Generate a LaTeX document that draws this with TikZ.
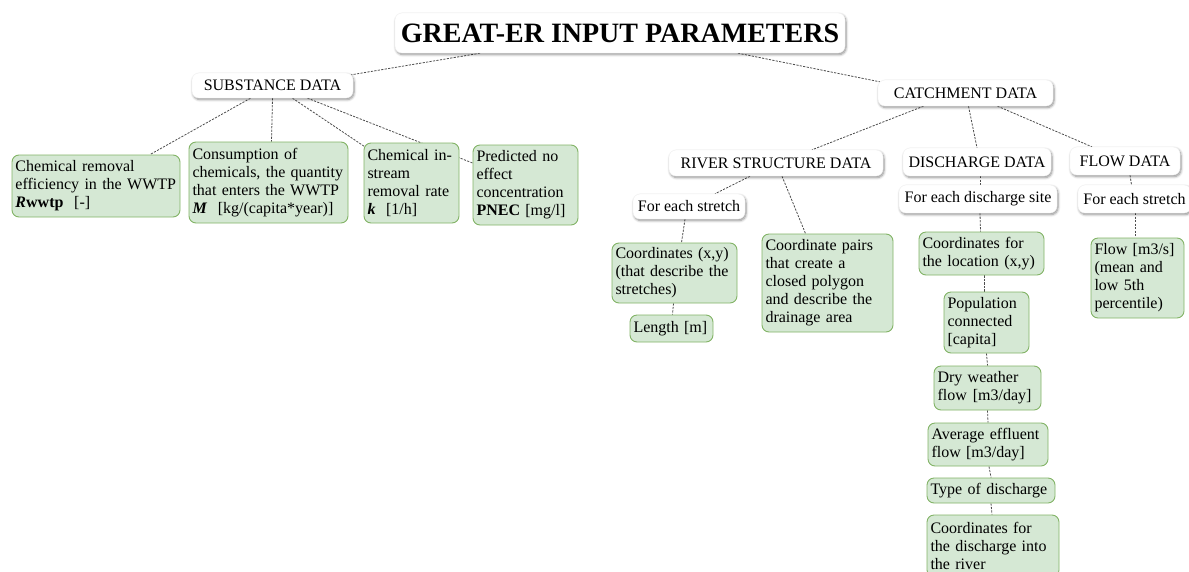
\documentclass[tikz,border=0pt]{standalone}
\usepackage{fontspec}
\setmainfont{Liberation Serif}
\usetikzlibrary{shadows.blur,backgrounds}
\definecolor{gfill}{HTML}{D5E8D4}
\definecolor{gline}{HTML}{82B366}
\definecolor{conncol}{HTML}{4D4D4D}
\begin{document}
\begin{tikzpicture}[x=1pt,y=-1pt,
  wbox/.style={rounded corners=7pt, fill=white, draw=black!5, inner sep=0pt,
    font=\fontsize{16}{18}\selectfont,
    blur shadow={shadow xshift=1pt, shadow yshift=-1.6pt, shadow blur radius=2.5pt,
      shadow blur steps=6, shadow opacity=45}},
  gbox/.style={rounded corners=7pt, fill=gfill, draw=gline, line width=0.9pt,
    inner xsep=3.5pt, inner ysep=0pt, align=left, font=\fontsize{16}{18}\selectfont},
  conn/.style={draw=conncol, line width=0.8pt, dash pattern=on 2.2pt off 1.3pt}]
\useasboundingbox (0,0) rectangle (1189,571);
\clip (0,0) rectangle (1189,571);

% white header boxes
\node[wbox, minimum width=450pt, minimum height=40pt, font=\fontsize{28}{30}\selectfont\bfseries] (title) at (620,33) {GREAT-ER INPUT PARAMETERS};
\node[wbox, minimum width=161pt, minimum height=25pt] (sub) at (272.5,85.5) {SUBSTANCE DATA};
\node[wbox, minimum width=175pt, minimum height=26pt] (catch) at (965.5,93) {CATCHMENT DATA};
\node[wbox, minimum width=214pt, minimum height=26pt] (river) at (776,163) {RIVER STRUCTURE DATA};
\node[wbox, minimum width=148pt, minimum height=28pt] (disc) at (977,162) {DISCHARGE DATA};
\node[wbox, minimum width=110pt, minimum height=28pt] (flowd) at (1125,161) {FLOW DATA};
\node[wbox, minimum width=112pt, minimum height=25pt] (fes1) at (689,206.5) {For each stretch};
\node[wbox, minimum width=158pt, minimum height=28pt] (fedis) at (978,199) {For each discharge site};
\node[wbox, minimum width=113pt, minimum height=28pt] (fes2) at (1134.5,199) {For each stretch};

% green data boxes
\node[gbox, minimum width=168pt, text width=161pt, minimum height=62pt] (chem) at (96,186)
  {Chemical removal\\efficiency in the WWTP\\\textbf{\textit{R}wwtp}\ \ [-]};
\node[gbox, minimum width=159pt, text width=152pt, minimum height=81pt] (cons) at (268.5,182.5)
  {Consumption of\\chemicals, the quantity\\that enters the WWTP\\\textbf{\textit{M}}\ \ [kg/(capita*year)]};
\node[gbox, minimum width=95pt, text width=88pt, minimum height=80pt] (inst) at (411.5,183)
  {Chemical in-\\stream\\removal rate\\\textbf{\textit{k}}\ \ [1/h]};
\node[gbox, minimum width=105pt, text width=98pt, minimum height=80pt] (pnec) at (525.5,185)
  {Predicted no\\effect\\concentration\\\textbf{PNEC} [mg/l]};
\node[gbox, minimum width=125pt, text width=118pt, minimum height=60pt] (cxy) at (674.5,273)
  {Coordinates (x,y)\\(that describe the\\stretches)};
\node[gbox, minimum width=83pt, text width=76pt, minimum height=27pt] (len) at (671.5,328.5)
  {Length [m]};
\node[gbox, minimum width=131pt, text width=124pt, minimum height=98pt] (cpairs) at (827.5,283)
  {Coordinate pairs\\that create a\\closed polygon\\and describe the\\drainage area};
\node[gbox, minimum width=125pt, text width=118pt, minimum height=43pt] (cloc) at (981.5,253.5)
  {Coordinates for\\the location (x,y)};
\node[gbox, minimum width=85pt, text width=78pt, minimum height=61pt] (pop) at (986.5,322.5)
  {Population\\connected\\{}[capita]};
\node[gbox, minimum width=107pt, text width=100pt, minimum height=44pt] (dry) at (987.5,388)
  {Dry weather\\flow\hspace{6pt}[m3/day]};
\node[gbox, minimum width=120pt, text width=113pt, minimum height=43pt] (avg) at (988,444.5)
  {Average effluent\\flow [m3/day]};
\node[gbox, minimum width=128pt, text width=121pt, minimum height=25pt] (type) at (991,490.5)
  {Type of discharge};
\node[gbox, minimum width=132pt, text width=125pt, minimum height=62pt] (cdis) at (993,546)
  {Coordinates for\\the discharge into\\the river};
\node[gbox, minimum width=93pt, text width=86pt, minimum height=80pt] (flow) at (1137.5,278)
  {Flow [m3/s]\\(mean and\\low 5th\\percentile)};

% connectors
\begin{scope}[on background layer]
\draw[conn] ([xshift=-140pt]title.south) -- ([xshift=-2pt,yshift=-2pt]sub.north east);
\draw[conn] ([xshift=118pt]title.south) -- ([xshift=2pt,yshift=-2pt]catch.north west);
\draw[conn] ([xshift=-22pt]sub.south) -- ([xshift=54pt]chem.north);
\draw[conn] (sub.south) -- ([xshift=3pt]cons.north);
\draw[conn] ([xshift=20pt]sub.south) -- ([xshift=1pt,yshift=-4pt]inst.north west);
\draw[conn] ([xshift=35pt]sub.south) -- ([yshift=22pt]pnec.west);
\draw[conn] ([xshift=-42pt]catch.south) -- ([xshift=36pt]river.north);
\draw[conn] ([xshift=3pt]catch.south) -- (disc.north);
\draw[conn] ([xshift=32pt]catch.south) -- ([xshift=-33pt]flowd.north);
\draw[conn] ([xshift=-26pt]river.south) -- ([xshift=26pt]fes1.north);
\draw[conn] ([xshift=6pt]river.south) -- ([xshift=-22pt]cpairs.north);
\draw[conn] ([xshift=-4pt]fes1.south) -- ([xshift=7pt]cxy.north);
\draw[conn] ([xshift=-1pt]cxy.south) -- ([xshift=1pt]len.north);
\draw[conn] ([xshift=3pt]disc.south) -- ([xshift=2pt]fedis.north);
\draw[conn] ([xshift=2pt]fedis.south) -- ([xshift=-1pt]cloc.north);
\draw[conn] ([xshift=2.5pt]cloc.south) -- ([xshift=-2.5pt]pop.north);
\draw[conn] (pop.south) -- (dry.north);
\draw[conn] (dry.south) -- (avg.north);
\draw[conn] ([xshift=1pt]avg.south) -- (type.north);
\draw[conn] (type.south) -- ([xshift=-1pt]cdis.north);
\draw[conn] ([xshift=5pt]flowd.south) -- ([xshift=-3pt]fes2.north);
\draw[conn] ([xshift=0.5pt]fes2.south) -- ([xshift=-2.5pt]flow.north);
\end{scope}
\end{tikzpicture}
\end{document}
